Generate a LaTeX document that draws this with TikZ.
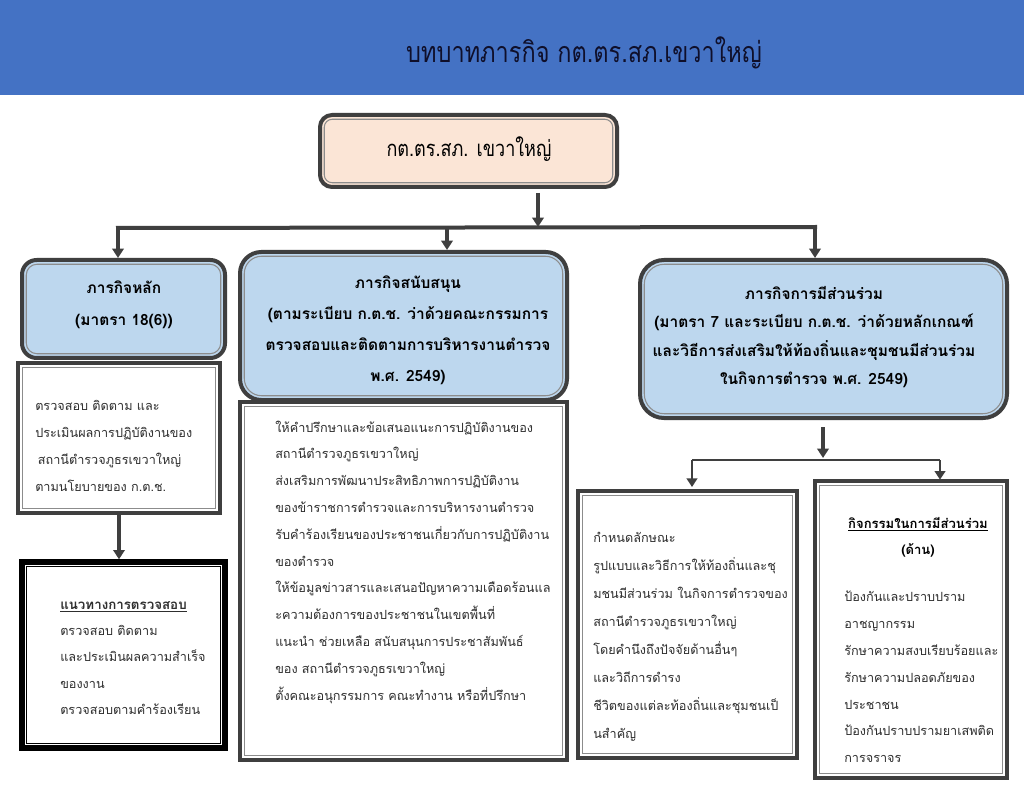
\documentclass[tikz,border=0pt]{standalone}
\usepackage{fontspec}
\setmainfont[Script=Thai]{Loma}
\newfontfamily\condfont[Script=Thai,FakeStretch=0.82]{Loma}
\usetikzlibrary{arrows.meta,fit}
\definecolor{hdrblue}{HTML}{4472C4}
\definecolor{peach}{HTML}{FBE5D6}
\definecolor{lblue}{HTML}{BDD7EE}
\definecolor{edgecol}{HTML}{3F3F3F}
\definecolor{innergray}{HTML}{8C8C8C}
\definecolor{titlecol}{HTML}{0F0F2A}
\definecolor{txt}{HTML}{2E2E2E}
\newcommand\innerframe[3]{\draw[#3,rounded corners=#2] ([shift={(3.2pt,-3.2pt)}]#1.north west) rectangle ([shift={(-3.2pt,3.2pt)}]#1.south east);}
\tikzset{
  boxbase/.style={draw=edgecol, line width=3pt, inner sep=0pt, outer sep=0pt},
  bluebox/.style={boxbase, fill=lblue},
  bluetext/.style={align=center, text=black, inner sep=0pt},
  whitebox/.style={boxbase, fill=white},
  blackbox/.style={draw=black, line width=4pt, inner sep=0pt, outer sep=0pt, fill=white},
  innerline/.style={draw=innergray, line width=0.8pt},
  innerblack/.style={draw=black, line width=0.9pt},
  bodytext/.style={align=left, anchor=west, inner sep=0pt, text=txt,
     font=\fontsize{9.5}{20.1}\selectfont},
  arr/.style={draw=edgecol, line width=2.3pt, -{Triangle[length=7pt,width=8.5pt]}},
  thinarr/.style={draw=edgecol, line width=2pt, -{Triangle[length=6.5pt,width=8pt]}},
  barline/.style={draw=edgecol, line width=3pt},
  thinbar/.style={draw=edgecol, line width=0.9pt},
}
\begin{document}
\begin{tikzpicture}[x=0.75pt,y=-0.75pt]
\useasboundingbox (0,0) rectangle (1024,791);
\fill[white] (0,0) rectangle (1024,791);
% header band
\fill[hdrblue] (0,0) rectangle (1024,95);
\node[text=titlecol, font=\condfont\fontsize{21.5}{24}\selectfont] (title) at (584,53) {บทบาทภารกิจ กต.ตร.สภ.เขวาใหญ่};
% top box
\node[boxbase, fill=peach, rounded corners=9pt, fit={(320,115) (617,187)}] (top) {};
\innerframe{top}{6pt}{innerline}
\node[text=black, font=\condfont\fontsize{16.5}{18}\selectfont] (toptext) at (469,149) {กต.ตร.สภ. เขวาใหญ่};
% level boxes
\node[bluebox, rounded corners=11pt, fit={(22,260) (225,358)}] (b1) {};
\innerframe{b1}{8pt}{innerline}
\node[bluetext, font=\bfseries\fontsize{11.6}{24}\selectfont] (b1t) at (124,305)
  {ภารกิจหลัก\\(มาตรา 18(6))};
\node[bluebox, rounded corners=16pt, fit={(240,252) (567,400)}] (b2) {};
\innerframe{b2}{13pt}{innerline}
\node[bluetext, font=\bfseries\fontsize{11.6}{23.3}\selectfont] (b2t) at (408,330)
  {ภารกิจสนับสนุน\\(ตามระเบียบ ก.ต.ช. ว่าด้วยคณะกรรมการ\\ตรวจสอบและติดตามการบริหารงานตำรวจ\\พ.ศ. 2549)};
\node[bluebox, rounded corners=18pt, fit={(640,260) (1007,418)}] (b3) {};
\innerframe{b3}{15pt}{innerline}
\node[bluetext, font=\bfseries\fontsize{11.6}{21.4}\selectfont] (b3t) at (814,337)
  {ภารกิจการมีส่วนร่วม\\(มาตรา 7 และระเบียบ ก.ต.ช. ว่าด้วยหลักเกณฑ์\\และวิธีการส่งเสริมให้ท้องถิ่นและชุมชนมีส่วนร่วม\\ในกิจการตำรวจ พ.ศ. 2549)};
% detail boxes
\node[whitebox, fit={(18,363) (220,513)}] (d1) {};
\innerframe{d1}{0pt}{innerline}
\node[blackbox, fit={(22,562) (225,748)}] (g1) {};
\innerframe{g1}{0pt}{innerblack}
\node[whitebox, fit={(240,402) (567,760)}] (d2) {};
\innerframe{d2}{0pt}{innerline}
\node[whitebox, fit={(578,491) (797,758)}] (d3a) {};
\innerframe{d3a}{0pt}{innerline}
\node[whitebox, fit={(815,481) (1007,778)}] (d3b) {};
\innerframe{d3b}{0pt}{innerline}
% texts
\node[bodytext] (t1) at (35,446) {ตรวจสอบ ติดตาม และ\\ประเมินผลการปฏิบัติงานของ\\\hspace*{2pt}สถานีตำรวจภูธรเขวาใหญ่\\ตามนโยบายของ ก.ต.ช.};
\node[bodytext, font=\fontsize{9.5}{19.8}\selectfont] (t2) at (60,658) {\underline{\textbf{\fontsize{10}{19.8}\selectfont แนวทางการตรวจสอบ}}\\ตรวจสอบ ติดตาม\\และประเมินผลความสำเร็จ\\ของงาน\\ตรวจสอบตามคำร้องเรียน};
\node[bodytext] (t3) at (275,562) {ให้คำปรึกษาและข้อเสนอแนะการปฏิบัติงานของ\\สถานีตำรวจภูธรเขวาใหญ่\\ส่งเสริมการพัฒนาประสิทธิภาพการปฏิบัติงาน\\ของข้าราชการตำรวจและการบริหารงานตำรวจ\\รับคำร้องเรียนของประชาชนเกี่ยวกับการปฏิบัติงาน\\ของตำรวจ\\ให้ข้อมูลข่าวสารและเสนอปัญหาความเดือดร้อนแล\\ะความต้องการของประชาชนในเขตพื้นที่\\แนะนำ ช่วยเหลือ สนับสนุนการประชาสัมพันธ์\\ของ สถานีตำรวจภูธรเขวาใหญ่\\ตั้งคณะอนุกรรมการ คณะทำงาน หรือที่ปรึกษา};
\node[bodytext, font=\fontsize{9.5}{21}\selectfont] (t4) at (593,637) {กำหนดลักษณะ\\รูปแบบและวิธีการให้ท้องถิ่นและชุ\\มชนมีส่วนร่วม ในกิจการตำรวจของ\\สถานีตำรวจภูธรเขวาใหญ่\\โดยคำนึงถึงปัจจัยด้านอื่นๆ\\และวิถีการดำรง\\ชีวิตของแต่ละท้องถิ่นและชุมชนเป็\\นสำคัญ};
\node[bodytext, anchor=center, align=center, text=black, font=\bfseries\fontsize{9.8}{19.5}\selectfont] (t5h) at (918,537) {\underline{กิจกรรมในการมีส่วนร่วม}\\(ด้าน)};
\node[bodytext] (t5) at (844,677) {ป้องกันและปราบปราม\\อาชญากรรม\\รักษาความสงบเรียบร้อยและ\\รักษาความปลอดภัยของ\\ประชาชน\\ป้องกันปราบปรามยาเสพติด\\การจราจร};
% connectors
\coordinate (hub) at (538,227);
\coordinate (lbar) at (118,228);
\coordinate (mbar) at (447,227);
\coordinate (rbar) at (815,227);
\draw[arr] ([yshift=-4.5pt]top.south -| hub) -- (hub);
\draw[barline] ([xshift=-1.5pt]lbar) -- ([xshift=1.5pt]rbar);
\draw[arr] (lbar) -- ([yshift=1.5pt]lbar |- b1.north);
\draw[arr] (mbar) -- ([yshift=1.5pt]mbar |- b2.north);
\draw[arr] (rbar) -- ([yshift=1.5pt]rbar |- b3.north);
\draw[arr] ([yshift=-1pt]d1.south) -- ([yshift=2pt]d1.south |- g1.north);
\coordinate (hub2) at (823,458);
\coordinate (l2) at (692,460);
\coordinate (r2) at (940,460);
\draw[arr] ([yshift=-7pt]b3.south -| hub2) -- (hub2);
\draw[thinbar] (l2) -- (r2);
\draw[thinarr] (l2) -- ([yshift=3pt]l2 |- d3a.north);
\draw[thinarr] (r2) -- ([yshift=1pt]r2 |- d3b.north);
\end{tikzpicture}
\end{document}
